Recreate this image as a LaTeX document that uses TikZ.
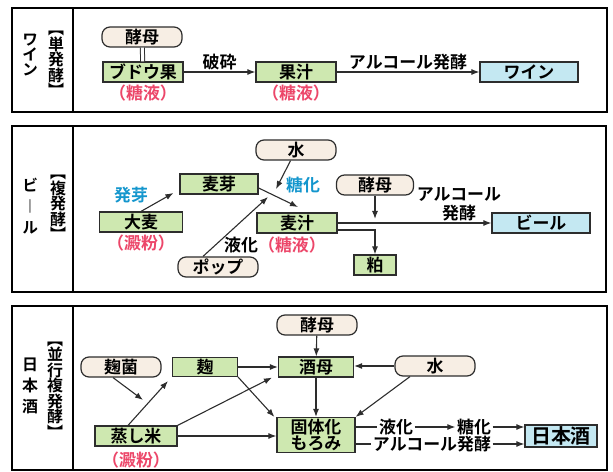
\documentclass[tikz,border=0pt]{standalone}
\usepackage{fontspec}
\setmainfont{Noto Sans CJK JP}[BoldFont={Noto Sans CJK JP Bold}]
\newfontfamily\tate{Noto Sans CJK JP Bold}[RawFeature=+vert]
\usepackage{tikz}
\usetikzlibrary{arrows.meta,calc}
\definecolor{boxgreen}{RGB}{206,232,176}
\definecolor{boxblue}{RGB}{196,232,242}
\definecolor{pillbeige}{RGB}{247,238,228}
\definecolor{linegray}{RGB}{45,45,45}
\definecolor{textred}{RGB}{236,70,105}
\definecolor{textblue}{RGB}{20,150,205}

\begin{document}
\setlength{\lineskiplimit}{-20pt}
\begin{tikzpicture}[x=1bp,y=-1bp,
  font=\bfseries\fontsize{17}{19}\selectfont,
  box/.style={draw=linegray,line width=1.2bp,fill=boxgreen,minimum width=80bp,minimum height=20bp,inner sep=0pt},
  endbox/.style={box,fill=boxblue},
  pill/.style={draw=linegray,line width=1.2bp,fill=pillbeige,rounded corners=8bp,minimum width=80bp,minimum height=20bp,inner sep=0pt},
  lbl/.style={inner sep=1.5bp},
  arr/.style={-{Latex[length=8bp,width=6bp]},line width=1.1bp,draw=linegray},
  joint/.style={line width=1.1bp,draw=linegray},
  panel/.style={draw=black,line width=1.3bp},
  tatelbl/.style={align=center,inner sep=0pt,font=\tate\fontsize{16}{15.5}\selectfont}]
\useasboundingbox (0,0) rectangle (613,472);

% single fermentation
\draw[panel] (12,8) rectangle (607,112);
\draw[panel] (73,8) -- (73,112);
\node[tatelbl] (tan) at (56,64) {【\\単\\発\\酵\\】};
\node[tatelbl] (wname) at (30,55) {ワ\\イ\\ン};
\node[pill] (kobo1) at (142,37) {酵母};
\node[box] (budou) at (143,72) {ブドウ果};
\node[box] (kajuu) at (296,72) {果汁};
\node[endbox,minimum width=98bp] (wine) at (529,72) {ワイン};
\node[lbl,textred] (tou1) at (143,93) {（糖液）};
\node[lbl,textred] (tou2) at (296,93) {（糖液）};
\draw[linegray,line width=1bp,double,double distance=3bp] (kobo1) -- (budou);
\draw[arr] (budou) -- (kajuu) node[midway,above,lbl] {破砕};
\draw[arr] (kajuu) -- (wine) node[midway,above,lbl] {アルコール発酵};

% double fermentation
\draw[panel] (12,126) rectangle (606,292);
\draw[panel] (73,126) -- (73,292);
\node[tatelbl] (fuku) at (58,208) {【\\複\\発\\酵\\】};
\node[tatelbl,font=\tate\fontsize{16}{21}\selectfont] (bname) at (30,206) {ビ\\︱\\ル};
\node[pill] (mizu2) at (296,150) {水};
\node[box,minimum width=78bp] (bakuga) at (219,184) {麦芽};
\node[box,minimum width=83bp] (oomugi) at (141,222) {大麦};
\node[lbl,textred] (denpun2) at (141,243) {（澱粉）};
\node[lbl,textblue] (hatsuga) at (131,195) {発芽};
\node[box] (bakujuu) at (297,223) {麦汁};
\node[lbl] (ekika2) at (275,245) {液化\textcolor{textred}{（糖液）}};
\node[lbl,textblue] (touka2) at (303,185) {糖化};
\node[pill,minimum width=77bp] (kobo2) at (375,185) {酵母};
\node[endbox,minimum width=98bp] (beer) at (541,223) {ビール};
\node[box,minimum width=42bp] (kasu) at (375,265) {粕};
\node[pill] (hop) at (218,267) {ポップ};
\node[lbl,align=center] (alc2) at (459,204) {アルコール\\発酵};
\coordinate (goryu) at (276,189);
\coordinate (bakujuuin) at (298,207);
\coordinate (hopin) at (268,197);
\coordinate (koboin) at (375,219);
\draw[arr] (oomugi.north) -- ([xshift=-6bp,yshift=-9bp]bakuga.west);
\draw[arr] (mizu2) -- (goryu);
\draw[arr] ([yshift=-4bp]bakuga.east) -- (bakujuuin);
\draw[arr] ([xshift=-15bp]hop.north) -- (hopin);
\draw[arr] (kobo2) -- (koboin);
\draw[arr] (bakujuu) -- (beer);
\draw[arr] ([yshift=-7bp]bakujuu.east) -| (kasu);

% parallel double fermentation
\draw[panel] (12,306) rectangle (607,470);
\draw[panel] (73,306) -- (73,470);
\node[tatelbl] (heikou) at (55,390) {【\\並\\行\\複\\発\\酵\\】};
\node[tatelbl,font=\tate\fontsize{16}{21}\selectfont] (sname) at (30,386) {日\\本\\酒};
\node[pill] (koujikin) at (121,367) {麹菌};
\node[box,minimum width=65bp,minimum height=19bp] (kouji) at (205,367) {麹};
\node[box,minimum width=75bp] (shubo) at (316,367) {酒母};
\node[pill] (kobo3) at (317,325) {酵母};
\node[pill] (mizu3) at (435,366) {水};
\node[box,minimum width=78bp,minimum height=35bp,align=center,font=\bfseries\fontsize{17}{16}\selectfont] (kotai) at (316,435) {固体化\\もろみ};
\node[box,minimum width=82bp] (mushimai) at (136,436) {蒸し米};
\node[lbl,textred] (denpun3) at (136,460) {（澱粉）};
\node[endbox,minimum width=72bp,minimum height=22bp,font=\bfseries\fontsize{20}{21}\selectfont] (nihonshu) at (561,436) {日本酒};
\node[lbl] (ekika3) at (396,427) {液化};
\node[lbl] (touka3) at (474,427) {糖化};
\node[lbl] (alc3) at (432,444) {アルコール発酵};
\coordinate (kinin) at (143,400);
\draw[arr] ([xshift=-8bp]koujikin.south) -- (kinin);
\draw[arr] ([xshift=-8bp]mushimai.north) -- ([xshift=-4bp,yshift=-4bp]kouji.south west);
\draw[arr] (mushimai.north east) -- ([xshift=-6bp]shubo.south west);
\draw[arr] (kouji) -- (shubo);
\draw[arr] (kouji.south east) -- ([xshift=-2bp]kotai.north west);
\draw[arr] (mushimai) -- (mushimai -| kotai.west);
\draw[arr] (kobo3) -- (shubo);
\draw[arr] (mizu3.west) -- (mizu3.west -| shubo.east);
\draw[arr] ([xshift=-25bp]mizu3.south) -- (kotai.north east);
\draw[arr] (shubo) -- (kotai);
\draw[joint] (kotai.east |- ekika3) -- (ekika3);
\draw[arr] (ekika3) -- (touka3);
\draw[arr] (touka3) -- (touka3 -| nihonshu.west);
\draw[joint] (kotai.east |- alc3) -- (alc3);
\draw[arr] (alc3) -- (alc3 -| nihonshu.west);
\end{tikzpicture}
\end{document}
